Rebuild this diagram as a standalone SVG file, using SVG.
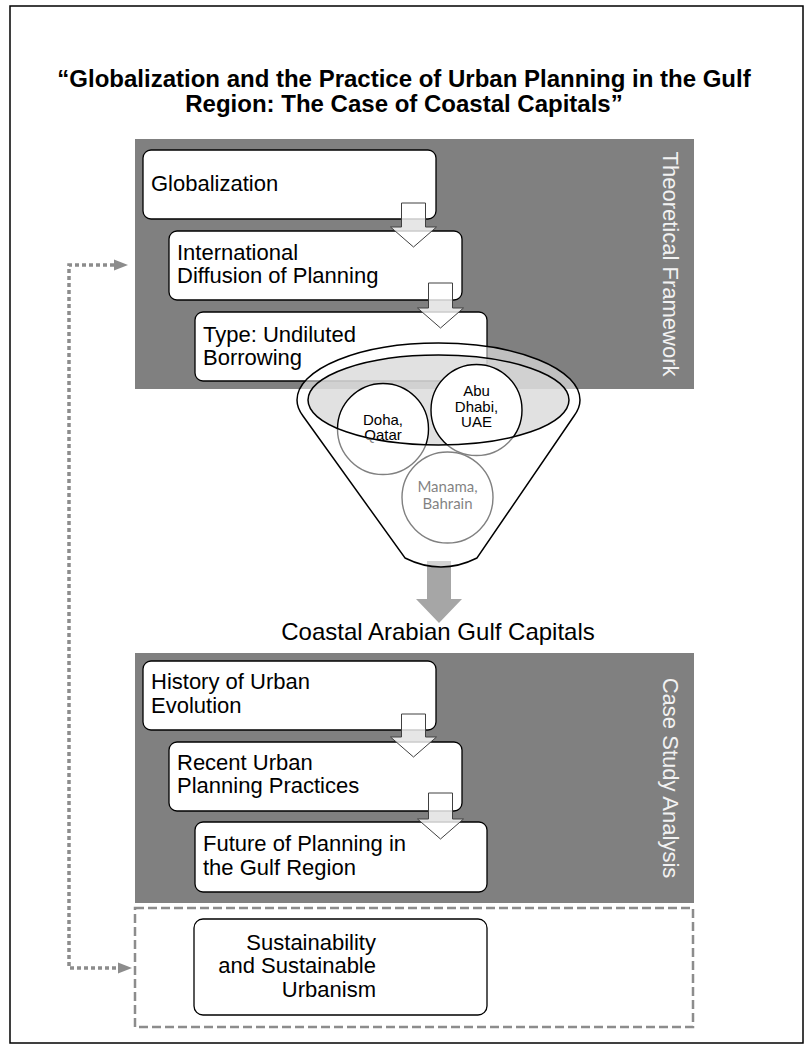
<svg xmlns="http://www.w3.org/2000/svg" width="808" height="1048" viewBox="0 0 808 1048">
<style>
.title{font-family:"Liberation Sans",Arial,sans-serif;font-weight:bold;font-size:24px;fill:#000;text-anchor:middle}
.panel{fill:#808080}
.vlabel{font-family:"Liberation Sans",Arial,sans-serif;font-size:22px;fill:#f2f2f2;text-anchor:middle}
.box{fill:#fff;stroke:#000;stroke-width:1.3}
.btxt{font-family:"Liberation Sans",Arial,sans-serif;font-size:22px;fill:#000}
.barrow{fill:#fff;fill-opacity:0.8;stroke:#404040;stroke-width:1}
.ctxt{font-family:"Liberation Sans",Arial,sans-serif;font-size:15px;fill:#000;text-anchor:middle}
.mtxt{font-family:Lato,"Liberation Sans",sans-serif;font-size:15px;fill:#000;text-anchor:middle}
.circ{fill:#fff;stroke:#000;stroke-width:1.4}
.dotted{fill:none;stroke:#8c8c8c;stroke-width:3.5;stroke-dasharray:4 3}
</style>
<defs>
<marker id="ah" markerUnits="userSpaceOnUse" markerWidth="16" markerHeight="13" refX="0" refY="6" orient="auto-start-reverse" viewBox="0 0 16 12">
<path d="M0,0.5 L14,6 L0,11.5 Z" fill="#8c8c8c"/>
</marker>
</defs>

<rect x="10" y="6" width="793" height="1037" fill="#fff" stroke="#000" stroke-width="1.5"/>

<g id="title">
<text class="title" x="404" y="87">“Globalization and the Practice of Urban Planning in the Gulf</text>
<text class="title" x="404" y="112">Region: The Case of Coastal Capitals”</text>
</g>

<g id="panel-theoretical">
<rect class="panel" x="135" y="139" width="559" height="250"/>
<text class="vlabel" transform="translate(663,264) rotate(90)">Theoretical Framework</text>
</g>

<g id="panel-case">
<rect class="panel" x="135" y="653" width="559" height="250"/>
<text class="vlabel" transform="translate(663,778) rotate(90)">Case Study Analysis</text>
</g>

<g id="node-globalization">
<rect class="box" x="143" y="150" width="293" height="69" rx="8"/>
<text class="btxt" x="151" y="191">Globalization</text>
</g>
<g id="node-diffusion">
<rect class="box" x="169" y="231" width="293" height="69" rx="8"/>
<text class="btxt" x="177" y="260">International</text>
<text class="btxt" x="177" y="283">Diffusion of Planning</text>
</g>
<g id="node-borrowing">
<rect class="box" x="195" y="312" width="292" height="69" rx="8"/>
<text class="btxt" x="203" y="342">Type: Undiluted</text>
<text class="btxt" x="203" y="365">Borrowing</text>
</g>

<g id="node-history">
<rect class="box" x="143" y="661" width="293" height="69" rx="8"/>
<text class="btxt" x="151" y="689">History of Urban</text>
<text class="btxt" x="151" y="713">Evolution</text>
</g>
<g id="node-recent">
<rect class="box" x="169" y="742" width="293" height="69" rx="8"/>
<text class="btxt" x="177" y="770">Recent Urban</text>
<text class="btxt" x="177" y="793">Planning Practices</text>
</g>
<g id="node-future">
<rect class="box" x="195" y="822" width="292" height="70" rx="8"/>
<text class="btxt" x="203" y="851">Future of Planning in</text>
<text class="btxt" x="203" y="875">the Gulf Region</text>
</g>

<g id="connectors">
<path class="barrow" d="M401.5,203 H425.5 V227 H436.5 L413.5,247 L390.5,227 H401.5 Z"/>
<path class="barrow" d="M428.5,283 H452.5 V308 H463.5 L440.5,328 L417.5,308 H428.5 Z"/>
<path class="barrow" d="M401.5,714 H425.5 V737 H436.5 L413.5,757 L390.5,737 H401.5 Z"/>
<path class="barrow" d="M428.5,793 H452.5 V819 H463.5 L440.5,839 L417.5,819 H428.5 Z"/>
<path d="M427,561 H451 V599 H462 L439,623 L416,599 H427 Z" fill="#a6a6a6"/>
<path class="dotted" d="M114,265 H69 V968 H118" marker-start="url(#ah)" marker-end="url(#ah)"/>
</g>

<g id="funnel">
<ellipse cx="438.5" cy="400" rx="130.5" ry="45" fill="#dcdcdc" fill-opacity="0.87"/>
<g id="node-doha">
<circle class="circ" cx="383" cy="429" r="45.5"/>
<text class="ctxt" x="383" y="425">Doha,</text>
<text class="ctxt" x="383" y="440">Qatar</text>
</g>
<g id="node-abudhabi">
<circle class="circ" cx="476.5" cy="410" r="45.5"/>
<text class="ctxt" x="476.5" y="396">Abu</text>
<text class="ctxt" x="476.5" y="411.5">Dhabi,</text>
<text class="ctxt" x="476.5" y="427">UAE</text>
</g>
<g id="node-manama">
<circle class="circ" cx="447.5" cy="497.5" r="45.5"/>
<text class="mtxt" x="447.5" y="492">Manama,</text>
<text class="mtxt" x="447.5" y="509">Bahrain</text>
</g>
<path fill="#fff" fill-opacity="0.5" fill-rule="evenodd" d="M297,400 A141.5,57 0 0 1 580,400 Q580,408 574,416 L477,558 Q441,576 405,558 L303,416 Q297,408 297,400 Z M308,400 A130.5,45 0 0 0 569,400 A130.5,45 0 0 0 308,400 Z"/>
<path fill="none" stroke="#000" stroke-width="1.5" d="M297,400 A141.5,57 0 0 1 580,400 Q580,408 574,416 L477,558 Q441,576 405,558 L303,416 Q297,408 297,400 Z"/>
<ellipse cx="438.5" cy="400" rx="130.5" ry="45" fill="none" stroke="#000" stroke-width="1.5"/>
</g>

<g id="node-coastal">
<text x="438" y="640" font-family="Liberation Sans, Arial, sans-serif" font-size="24" text-anchor="middle" fill="#000">Coastal Arabian Gulf Capitals</text>
</g>

<g id="node-sustainability">
<rect x="135" y="908" width="558" height="119" fill="none" stroke="#8c8c8c" stroke-width="2.5" stroke-dasharray="9 4"/>
<rect class="box" x="194" y="919" width="293" height="96" rx="9"/>
<text class="btxt" x="376" y="950" text-anchor="end">Sustainability</text>
<text class="btxt" x="376" y="973" text-anchor="end">and Sustainable</text>
<text class="btxt" x="376" y="997" text-anchor="end">Urbanism</text>
</g>
</svg>
